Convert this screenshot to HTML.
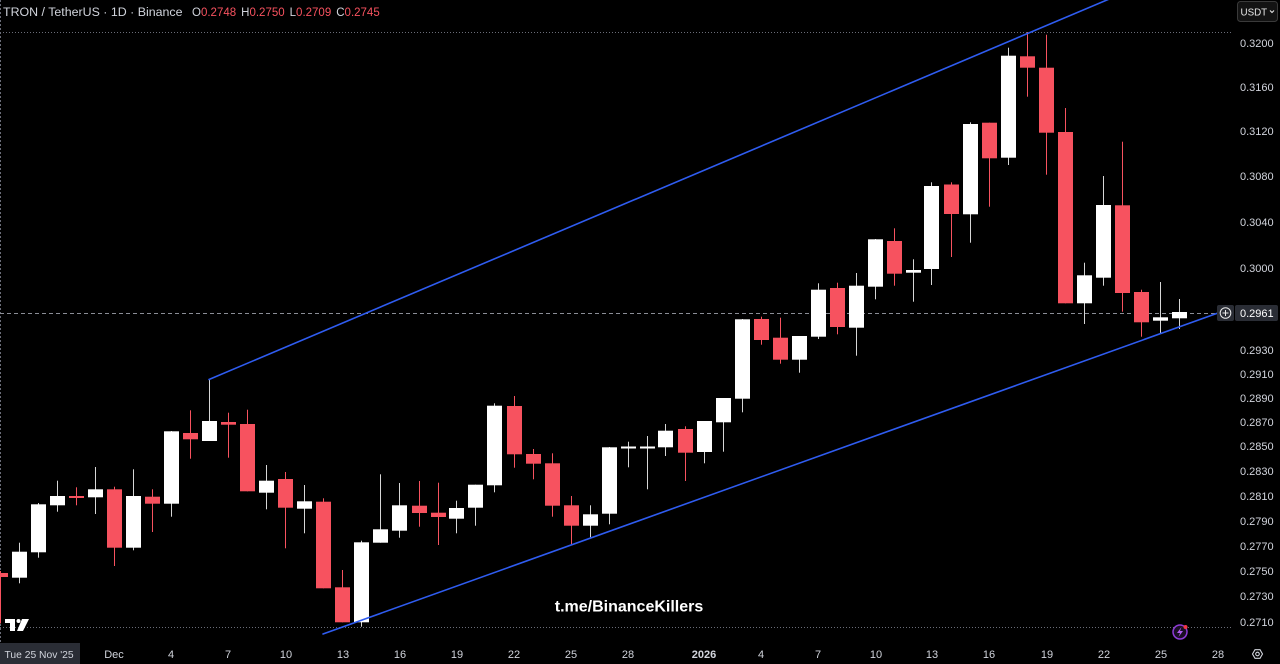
<!DOCTYPE html>
<html><head><meta charset="utf-8"><style>
html,body{margin:0;padding:0;background:#000;width:1280px;height:664px;overflow:hidden}
svg{display:block}
text{font-family:"Liberation Sans",sans-serif}
</style></head><body>
<svg width="1280" height="664" viewBox="0 0 1280 664" xmlns="http://www.w3.org/2000/svg">
<rect width="1280" height="664" fill="#000"/>
<!-- high/low dotted lines -->
<line x1="0" y1="32.5" x2="1232" y2="32.5" stroke="#6a6d78" stroke-width="1" stroke-dasharray="1 2"/>
<line x1="0" y1="627.5" x2="1232" y2="627.5" stroke="#6a6d78" stroke-width="1" stroke-dasharray="1 2"/>
<!-- crosshair vertical -->
<line x1="0.5" y1="0" x2="0.5" y2="643" stroke="#6a6d78" stroke-width="1" stroke-dasharray="2 2"/>
<!-- current price dashed line -->
<line x1="0" y1="313.5" x2="1217" y2="313.5" stroke="#8a8d96" stroke-width="1" stroke-dasharray="4 3"/>

<!-- wicks red -->
<g fill="#f7525f">
<rect x="0" y="571" width="1" height="52.5"/>
<rect x="76" y="487.3" width="1" height="18"/>
<rect x="114" y="486.7" width="1" height="79.3"/>
<rect x="152" y="489.3" width="1" height="42.7"/>
<rect x="190" y="410.3" width="1" height="48.4"/>
<rect x="228" y="412.7" width="1" height="45"/>
<rect x="247" y="409.7" width="1" height="81.6"/>
<rect x="285" y="472" width="1" height="76.3"/>
<rect x="323" y="498.3" width="1" height="90"/>
<rect x="342" y="570" width="1" height="52.3"/>
<rect x="419" y="481" width="1" height="45.7"/>
<rect x="438" y="482.7" width="1" height="62.3"/>
<rect x="514" y="396" width="1" height="71.7"/>
<rect x="533" y="449" width="1" height="30.3"/>
<rect x="552" y="453.3" width="1" height="63.4"/>
<rect x="571" y="496" width="1" height="49"/>
<rect x="685" y="426.3" width="1" height="54.7"/>
<rect x="761" y="316.7" width="1" height="28"/>
<rect x="780" y="317.7" width="1" height="46"/>
<rect x="837" y="282.7" width="1" height="51.6"/>
<rect x="894" y="228.3" width="1" height="57.4"/>
<rect x="951" y="182.3" width="1" height="74.7"/>
<rect x="989" y="122.7" width="1" height="84"/>
<rect x="1027" y="32" width="1" height="64.7"/>
<rect x="1046" y="34.7" width="1" height="140"/>
<rect x="1065" y="108" width="1" height="195.3"/>
<rect x="1122" y="141.7" width="1" height="170"/>
<rect x="1141" y="289.7" width="1" height="47"/>
</g>
<!-- wicks white -->
<g fill="#d6d6d6">
<rect x="19" y="542.7" width="1" height="40.6"/>
<rect x="38" y="503" width="1" height="54.7"/>
<rect x="57" y="480.7" width="1" height="31"/>
<rect x="95" y="467" width="1" height="47"/>
<rect x="133" y="469.3" width="1" height="81"/>
<rect x="171" y="431" width="1" height="85.7"/>
<rect x="209" y="379.3" width="1" height="61.7"/>
<rect x="266" y="465" width="1" height="44.3"/>
<rect x="304" y="485" width="1" height="48.3"/>
<rect x="361" y="540.7" width="1" height="86"/>
<rect x="380" y="474.3" width="1" height="68.4"/>
<rect x="399" y="483" width="1" height="54.7"/>
<rect x="456" y="500.7" width="1" height="32.6"/>
<rect x="475" y="484.7" width="1" height="41"/>
<rect x="494" y="403.3" width="1" height="89"/>
<rect x="590" y="505.3" width="1" height="32"/>
<rect x="609" y="447" width="1" height="77.3"/>
<rect x="628" y="441.7" width="1" height="25.6"/>
<rect x="647" y="436" width="1" height="53.3"/>
<rect x="665" y="424" width="1" height="32"/>
<rect x="704" y="421" width="1" height="42.3"/>
<rect x="723" y="398" width="1" height="53.7"/>
<rect x="742" y="319" width="1" height="93.3"/>
<rect x="799" y="336" width="1" height="36.7"/>
<rect x="818" y="283.3" width="1" height="55.7"/>
<rect x="856" y="273" width="1" height="82.7"/>
<rect x="875" y="239" width="1" height="60.3"/>
<rect x="913" y="259.3" width="1" height="42.4"/>
<rect x="931" y="182.3" width="1" height="102.7"/>
<rect x="970" y="122.3" width="1" height="120.4"/>
<rect x="1008" y="47.7" width="1" height="117.3"/>
<rect x="1084" y="262.7" width="1" height="61.3"/>
<rect x="1103" y="176" width="1" height="109.7"/>
<rect x="1160" y="282" width="1" height="52"/>
<rect x="1179" y="299" width="1" height="30"/>
</g>
<!-- bodies red -->
<g fill="#f7525f">
<rect x="-7" y="573" width="15" height="4"/>
<rect x="69" y="496" width="15" height="2"/>
<rect x="107" y="489.3" width="15" height="58.4"/>
<rect x="145" y="496.7" width="15" height="7"/>
<rect x="183" y="433" width="15" height="6.3"/>
<rect x="221" y="422" width="15" height="2.7"/>
<rect x="240" y="424" width="15" height="67.3"/>
<rect x="278" y="479" width="15" height="28.7"/>
<rect x="316" y="501.7" width="15" height="86.6"/>
<rect x="335" y="587.3" width="15" height="35"/>
<rect x="412" y="505.7" width="15" height="7.3"/>
<rect x="431" y="512.7" width="15" height="4.3"/>
<rect x="507" y="406" width="15" height="48.3"/>
<rect x="526" y="454" width="15" height="9.7"/>
<rect x="545" y="463.3" width="15" height="42.4"/>
<rect x="564" y="505.3" width="15" height="20.4"/>
<rect x="678" y="429" width="15" height="23.7"/>
<rect x="754" y="319" width="15" height="21"/>
<rect x="773" y="337.7" width="15" height="22"/>
<rect x="830" y="288" width="15" height="39"/>
<rect x="887" y="241" width="15" height="32.7"/>
<rect x="944" y="184.5" width="15" height="29.5"/>
<rect x="982" y="122.7" width="15" height="35.6"/>
<rect x="1020" y="56.3" width="15" height="11.4"/>
<rect x="1039" y="67.7" width="15" height="65"/>
<rect x="1058" y="132" width="15" height="171.3"/>
<rect x="1115" y="205.3" width="15" height="87.7"/>
<rect x="1134" y="292" width="15" height="30.3"/>
</g>
<!-- bodies white -->
<g fill="#ffffff">
<rect x="12" y="551.7" width="15" height="26"/>
<rect x="31" y="504.3" width="15" height="48"/>
<rect x="50" y="496" width="15" height="9.3"/>
<rect x="88" y="489.3" width="15" height="8"/>
<rect x="126" y="496" width="15" height="51.7"/>
<rect x="164" y="431.3" width="15" height="72.4"/>
<rect x="202" y="421" width="15" height="20"/>
<rect x="259" y="480.7" width="15" height="12"/>
<rect x="297" y="501.3" width="15" height="7.4"/>
<rect x="354" y="542.3" width="15" height="80"/>
<rect x="373" y="529.3" width="15" height="13.4"/>
<rect x="392" y="505.3" width="15" height="25.4"/>
<rect x="449" y="508" width="15" height="10.7"/>
<rect x="468" y="484.7" width="15" height="23"/>
<rect x="487" y="405.7" width="15" height="79.6"/>
<rect x="583" y="514.3" width="15" height="11.4"/>
<rect x="602" y="447.3" width="15" height="66.4"/>
<rect x="621" y="446.5" width="15" height="2"/>
<rect x="640" y="446.5" width="15" height="2"/>
<rect x="658" y="430.7" width="15" height="16.6"/>
<rect x="697" y="421" width="15" height="31"/>
<rect x="716" y="398" width="15" height="24.3"/>
<rect x="735" y="319.3" width="15" height="79.4"/>
<rect x="792" y="336" width="15" height="23.7"/>
<rect x="811" y="289.7" width="15" height="47"/>
<rect x="849" y="285.7" width="15" height="42"/>
<rect x="868" y="239.3" width="15" height="47.4"/>
<rect x="906" y="270" width="15" height="2.7"/>
<rect x="924" y="186" width="15" height="83"/>
<rect x="963" y="124" width="15" height="90.3"/>
<rect x="1001" y="55.7" width="15" height="102"/>
<rect x="1077" y="275.3" width="15" height="28"/>
<rect x="1096" y="205" width="15" height="72.7"/>
<rect x="1153" y="317.3" width="15" height="3.4"/>
<rect x="1172" y="312" width="15" height="6.3"/>
</g>

<!-- channel lines -->
<g stroke="#2f5cf0" stroke-width="1.6" stroke-linecap="round">
<line x1="209" y1="379.5" x2="1110" y2="-1.3"/>
<line x1="323" y1="634" x2="1218" y2="313"/>
</g>

<!-- watermark -->
<text x="629" y="611.5" font-size="16" font-weight="bold" fill="#ffffff" text-anchor="middle">t.me/BinanceKillers</text>

<!-- TV logo -->
<g fill="#ffffff">
<rect x="5" y="619" width="10" height="4"/>
<rect x="10" y="619" width="5" height="12"/>
<circle cx="18.5" cy="621" r="2"/>
<polygon points="22,619 29,619 23,631 17,631"/>
</g>

<!-- header -->
<text x="3" y="16" font-size="12.4" fill="#d1d4dc">TRON / TetherUS · 1D · Binance</text>
<text x="192" y="16" font-size="11.5" fill="#d1d4dc">O<tspan fill="#f7525f">0.2748</tspan><tspan dx="5">H</tspan><tspan fill="#f7525f">0.2750</tspan><tspan dx="5">L</tspan><tspan fill="#f7525f">0.2709</tspan><tspan dx="5">C</tspan><tspan fill="#f7525f">0.2745</tspan></text>

<!-- USDT button -->
<rect x="1237.5" y="1.5" width="40" height="20" rx="3" fill="#131313" stroke="#3a3a3a"/>
<text x="1240.5" y="15.5" font-size="9.8" fill="#e8e8e8">USDT</text>
<polyline points="1270,10.5 1272,12.5 1274,10.5" fill="none" stroke="#e8e8e8" stroke-width="1.1"/>

<!-- price axis labels -->
<g font-size="11" fill="#d1d4dc">
<text x="1240" y="47">0.3200</text>
<text x="1240" y="91">0.3160</text>
<text x="1240" y="135">0.3120</text>
<text x="1240" y="180">0.3080</text>
<text x="1240" y="226">0.3040</text>
<text x="1240" y="272">0.3000</text>
<text x="1240" y="354">0.2930</text>
<text x="1240" y="378">0.2910</text>
<text x="1240" y="402">0.2890</text>
<text x="1240" y="426">0.2870</text>
<text x="1240" y="450">0.2850</text>
<text x="1240" y="475">0.2830</text>
<text x="1240" y="500">0.2810</text>
<text x="1240" y="525">0.2790</text>
<text x="1240" y="550">0.2770</text>
<text x="1240" y="575">0.2750</text>
<text x="1240" y="600">0.2730</text>
<text x="1240" y="626">0.2710</text>
</g>

<!-- current price label -->
<rect x="1217" y="305" width="17" height="16" rx="2" fill="#2a2d35"/>
<circle cx="1225.5" cy="313" r="5.3" fill="none" stroke="#e8e8e8" stroke-width="1"/>
<line x1="1222.5" y1="313" x2="1228.5" y2="313" stroke="#e8e8e8" stroke-width="1"/>
<line x1="1225.5" y1="310" x2="1225.5" y2="316" stroke="#e8e8e8" stroke-width="1"/>
<rect x="1235" y="305" width="43" height="16" rx="2" fill="#2a2d35"/>
<text x="1240" y="317" font-size="11" fill="#ffffff">0.2961</text>

<!-- lightning icon -->
<circle cx="1180" cy="632" r="7" fill="#1a0f24" stroke="#8e3bd6" stroke-width="1.5"/>
<polygon points="1181.5,627 1177,633 1180,633 1178.5,637 1183,631 1180,631" fill="#b05cf0"/>
<circle cx="1185.5" cy="627" r="2" fill="#f23645"/>

<!-- time axis -->
<rect x="0" y="643" width="80" height="21" fill="#2a2d35"/>
<text x="4.5" y="658" font-size="10.3" fill="#d1d4dc">Tue 25 Nov '25</text>
<g font-size="11" fill="#d1d4dc" text-anchor="middle">
<text x="114" y="658">Dec</text>
<text x="171" y="658">4</text>
<text x="228" y="658">7</text>
<text x="286" y="658">10</text>
<text x="343" y="658">13</text>
<text x="400" y="658">16</text>
<text x="457" y="658">19</text>
<text x="514" y="658">22</text>
<text x="571" y="658">25</text>
<text x="628" y="658">28</text>
<text x="704" y="658" font-weight="bold">2026</text>
<text x="761" y="658">4</text>
<text x="818" y="658">7</text>
<text x="876" y="658">10</text>
<text x="932" y="658">13</text>
<text x="989" y="658">16</text>
<text x="1047" y="658">19</text>
<text x="1104" y="658">22</text>
<text x="1161" y="658">25</text>
<text x="1218" y="658">28</text>
</g>
<!-- gear -->
<polygon points="1262.5,654 1260,658.3 1255,658.3 1252.5,654 1255,649.7 1260,649.7" fill="none" stroke="#d1d4dc" stroke-width="1.1"/>
<circle cx="1257.5" cy="654" r="1.8" fill="none" stroke="#d1d4dc" stroke-width="1.1"/>
</svg>
</body></html>
